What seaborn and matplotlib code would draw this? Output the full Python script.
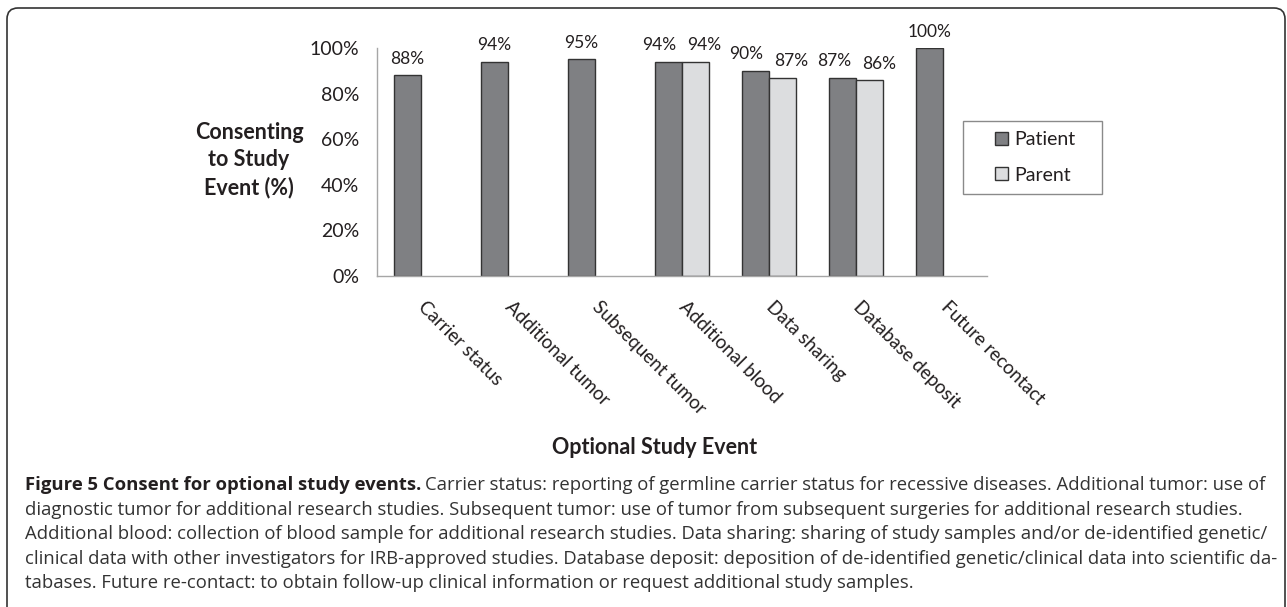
import pandas as pd
import seaborn as sns
import matplotlib
matplotlib.use('Agg')
import matplotlib.pyplot as plt
from matplotlib.patches import FancyBboxPatch, Rectangle, Patch
from matplotlib.ticker import PercentFormatter, FixedLocator
from matplotlib.transforms import IdentityTransform

# data
events = ["Carrier status", "Additional tumor", "Subsequent tumor", "Additional blood",
          "Data sharing", "Database deposit", "Future recontact"]
patient = [88, 94, 95, 94, 90, 87, 100]
parent = [None, None, None, 94, 87, 86, None]
groups = ["Patient", "Parent"]
colors = {"Patient": "#7f8083", "Parent": "#dcdddf"}
y_ticks = [0, 20, 40, 60, 80, 100]

y_label = "Consenting\nto Study\nEvent (%)"
x_label = "Optional Study Event"
caption_bold = "Figure 5 Consent for optional study events."
caption_lines = [
    "Carrier status: reporting of germline carrier status for recessive diseases. Additional tumor: use of",
    "diagnostic tumor for additional research studies. Subsequent tumor: use of tumor from subsequent surgeries for additional research studies.",
    "Additional blood: collection of blood sample for additional research studies. Data sharing: sharing of study samples and/or de-identified genetic/",
    "clinical data with other investigators for IRB-approved studies. Database deposit: deposition of de-identified genetic/clinical data into scientific da-",
    "tabases. Future re-contact: to obtain follow-up clinical information or request additional study samples.",
]

df = pd.DataFrame({
    "event": events * 2,
    "group": ["Patient"] * len(events) + ["Parent"] * len(events),
    "value": patient + parent,
}).dropna()

sns.set_style("white")
plt.rcParams['font.family'] = ['Lato', 'DejaVu Sans']
TXT = "#231f20"

W, H = 1287, 607
fig = plt.figure(figsize=(W / 100, H / 100), dpi=100)


def fx(px):
    return px / W


def fy(py):
    return 1 - py / H


ax = fig.add_axes([fx(377), fy(276), fx(987) - fx(377), fy(48) - fy(276)])
sns.barplot(data=df, x="event", y="value", hue="group", order=events, hue_order=groups,
            palette=colors, width=0.62, saturation=1, edgecolor="#333333", linewidth=1.0,
            errorbar=None, legend=False, ax=ax)

# value labels; where both groups have a bar the labels are pushed apart a little
for cont, g in zip(ax.containers, groups):
    for bar, v in zip(cont, cont.datavalues):
        xc = bar.get_x() + bar.get_width() / 2
        i = int(round(xc))
        dx = 0
        if patient[i] is not None and parent[i] is not None:
            dx = -6.5 if g == "Patient" else 6.5
        ax.annotate(f"{v:.0f}%", (xc, v), xytext=(dx, 6), textcoords='offset points',
                    ha='center', va='bottom', fontsize=12.5, color=TXT)

ax.set_ylim(0, 100)
ax.set_xlim(-0.5, len(events) - 0.5)
ax.yaxis.set_major_locator(FixedLocator(y_ticks))
ax.yaxis.set_major_formatter(PercentFormatter(100, decimals=0))
ax.tick_params(axis='y', direction='out', length=5, width=1, color='#a6a6a6',
               labelsize=14, labelcolor=TXT, pad=8)

ax.set_xticks(range(len(events)))
ax.set_xticklabels(events, rotation=-45, ha='left', va='center', rotation_mode='anchor')
ax.xaxis.set_minor_locator(FixedLocator([i - 0.5 for i in range(len(events) + 1)]))
ax.tick_params(axis='x', which='major', length=0, labelsize=13.5, labelcolor=TXT, pad=20)
ax.tick_params(axis='x', which='minor', direction='out', length=5, width=1, color='#a6a6a6')
ax.set_xlabel("")
ax.set_ylabel("")
for side in ["top", "right"]:
    ax.spines[side].set_visible(False)
for side in ["left", "bottom"]:
    ax.spines[side].set_color('#a6a6a6')
    ax.spines[side].set_linewidth(1)

fig.text(fx(249), fy(160), y_label, ha='center', va='center', fontsize=15.5,
         fontweight='bold', color=TXT, linespacing=1.35)
fig.text(fx(655), fy(448), x_label, ha='center', va='center', fontsize=15.5,
         fontweight='bold', color=TXT)

# legend with its own frame
handles = [Patch(facecolor=colors[g], edgecolor='#333333', linewidth=1) for g in groups]
ax.legend(handles, groups, loc='center left', bbox_to_anchor=(fx(995), fy(157.5)),
          bbox_transform=fig.transFigure, frameon=False, fontsize=14,
          handlelength=0.65, handleheight=0.65, handletextpad=0.35, labelspacing=0.95,
          borderpad=0, borderaxespad=0, labelcolor=TXT)
fig.patches.append(Rectangle((fx(963), fy(194)), fx(1102) - fx(963), fy(121) - fy(194),
                             transform=fig.transFigure, fill=False, edgecolor='#8a8a8a',
                             linewidth=1))

# rounded outer frame (pixel coords)
fig.patches.append(FancyBboxPatch((7, -30), 1278, H - 8 + 30,
                                  boxstyle="round,pad=0,rounding_size=11",
                                  transform=IdentityTransform(), fill=False,
                                  edgecolor='#333333', linewidth=1.2))

# caption, sized so the longest line spans the box
cap_font = ['Open Sans', 'DejaVu Sans']
cap_left, cap_right = 25, 1268
line_y = [485, 510, 534, 559, 583]
fig.canvas.draw()
renderer = fig.canvas.get_renderer()
probe = fig.text(0, 0, caption_lines[3], fontsize=12, family=cap_font)
w = probe.get_window_extent(renderer).width
probe.remove()
cap_size = 12 * (cap_right - cap_left) / w

tb = fig.text(fx(cap_left), fy(line_y[0]), caption_bold, fontsize=cap_size, family=cap_font,
              fontweight='bold', va='center', color=TXT)
bb = tb.get_window_extent(renderer)
fig.text(bb.x1 / W + fx(cap_size * 0.3), fy(line_y[0]), caption_lines[0], fontsize=cap_size,
         family=cap_font, va='center', color='#333333')
for yy, line in zip(line_y[1:], caption_lines[1:]):
    fig.text(fx(cap_left), fy(yy), line, fontsize=cap_size, family=cap_font,
             va='center', color='#333333')

fig.savefig("out.png", dpi=100)
